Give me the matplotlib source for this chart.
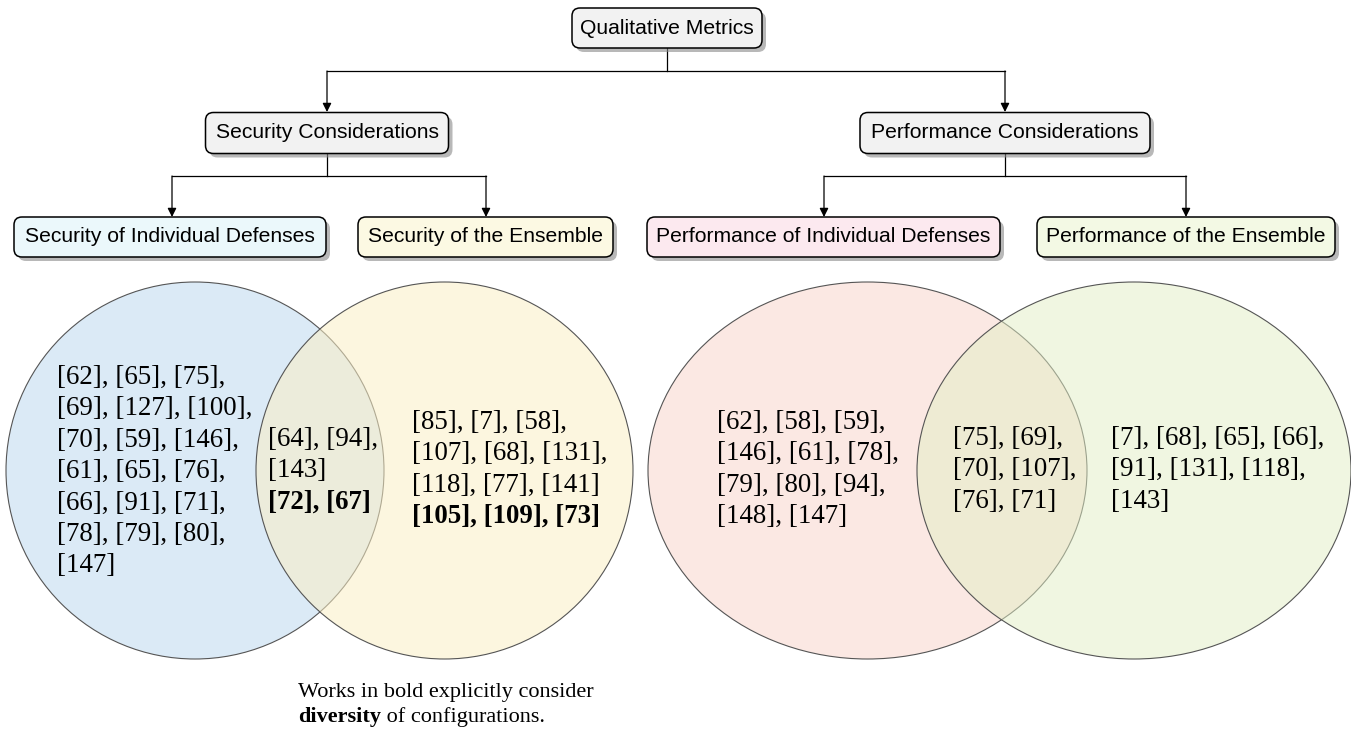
import matplotlib
matplotlib.use("Agg")
import matplotlib.pyplot as plt
from matplotlib.patches import Ellipse, FancyBboxPatch

# labels of the hierarchy
root_label = "Qualitative Metrics"
mid_labels = ["Security Considerations", "Performance Considerations"]
leaf_labels = ["Security of Individual Defenses", "Security of the Ensemble",
               "Performance of Individual Defenses", "Performance of the Ensemble"]

# references in each venn region, one entry per printed line
sec_indiv = ["[62], [65], [75],", "[69], [127], [100],", "[70], [59], [146],",
             "[61], [65], [76],", "[66], [91], [71],", "[78], [79], [80],", "[147]"]
sec_both = ["[64], [94],", "[143]"]
sec_both_bold = ["[72], [67]"]
sec_ens = ["[85], [7], [58],", "[107], [68], [131],", "[118], [77], [141]"]
sec_ens_bold = ["[105], [109], [73]"]
perf_indiv = ["[62], [58], [59],", "[146], [61], [78],", "[79], [80], [94],", "[148], [147]"]
perf_both = ["[75], [69],", "[70], [107],", "[76], [71]"]
perf_ens = ["[7], [68], [65], [66],", "[91], [131], [118],", "[143]"]

note_line1 = "Works in bold explicitly consider"
note_bold = "diversity"
note_rest = " of configurations."

W, H = 1351, 734
fig = plt.figure(figsize=(W / 100, H / 100), dpi=100)
ax = fig.add_axes([0, 0, 1, 1])
ax.set_xlim(0, W)
ax.set_ylim(H, 0)
ax.axis("off")

SANS = "Liberation Sans"
SERIF = "Liberation Serif"


def box(label, cx, cy, w, h, fc):
    x0, y0 = cx - w / 2, cy - h / 2
    shadow = FancyBboxPatch((x0 + 4, y0 + 4), w, h, boxstyle="round,pad=0,rounding_size=8",
                            fc="#8a8a8a", ec="none", alpha=0.6, zorder=2)
    ax.add_patch(shadow)
    b = FancyBboxPatch((x0, y0), w, h, boxstyle="round,pad=0,rounding_size=8",
                       fc=fc, ec="black", lw=1.1, zorder=3)
    ax.add_patch(b)
    ax.text(cx, cy, label, ha="center", va="center", fontsize=15.2, family=SANS, zorder=4)


def arrow(x, y_from, y_to):
    ax.annotate("", xy=(x, y_to), xytext=(x, y_from),
                arrowprops=dict(arrowstyle="-|>", color="black", lw=0.9,
                                mutation_scale=13, shrinkA=0, shrinkB=0))


# tree connectors
lk = dict(color="black", lw=0.9)
ax.plot([667, 667], [48, 71], **lk)
ax.plot([327, 1005], [71, 71], **lk)
arrow(327, 71, 112)
arrow(1005, 71, 112)
ax.plot([327, 327], [154, 176], **lk)
ax.plot([172, 486], [176, 176], **lk)
arrow(172, 176, 217)
arrow(486, 176, 217)
ax.plot([1005, 1005], [154, 176], **lk)
ax.plot([824, 1186], [176, 176], **lk)
arrow(824, 176, 217)
arrow(1186, 176, 217)

box(root_label, 667, 28, 190, 40, "#f2f2f2")
box(mid_labels[0], 327, 133, 243, 41, "#f2f2f2")
box(mid_labels[1], 1005, 133, 290, 41, "#f2f2f2")
leaf_cx = [170, 485.5, 823.5, 1186]
leaf_w = [312, 255, 353, 298]
leaf_fc = ["#ebf8fb", "#fcf9e3", "#fce9ef", "#f3f9e4"]
for lab, cx, w, fc in zip(leaf_labels, leaf_cx, leaf_w, leaf_fc):
    box(lab, cx, 237, w, 40, fc)

# venn ellipses
ec = "#555555"
ax.add_patch(Ellipse((195, 470.5), 378, 377, fc="#dbeaf6", ec=ec, lw=0.8, zorder=1))
ax.add_patch(Ellipse((444.5, 470.5), 377, 377, fc=(251 / 255, 239 / 255, 197 / 255, 0.55),
                     ec=ec, lw=0.8, zorder=1))
ax.add_patch(Ellipse((867.5, 470.5), 439, 377, fc="#fbe8e3", ec=ec, lw=0.8, zorder=1))
ax.add_patch(Ellipse((1134, 470.5), 434, 377, fc=(227 / 255, 239 / 255, 197 / 255, 0.5),
                     ec=ec, lw=0.8, zorder=1))


def lines(x, y, rows, bold=False, step=31.5):
    for i, r in enumerate(rows):
        ax.text(x, y + i * step, r, ha="left", va="center", fontsize=19.4, family=SERIF,
                fontweight="bold" if bold else "normal", zorder=5)


lines(57, 377, sec_indiv)
lines(268, 439, sec_both)
lines(268, 439 + 2 * 31.5, sec_both_bold, bold=True)
lines(412, 422, sec_ens)
lines(412, 422 + 3 * 31.5, sec_ens_bold, bold=True)
lines(717, 422, perf_indiv)
lines(953, 438, perf_both)
lines(1111, 438, perf_ens)

# note under the diagram
ax.text(298, 692, note_line1, ha="left", va="center", fontsize=16, family=SERIF)
tb = ax.text(298, 717, note_bold, ha="left", va="center", fontsize=16, family=SERIF,
             fontweight="bold")
fig.canvas.draw()
ext = tb.get_window_extent(fig.canvas.get_renderer())
ax.text(298 + ext.width, 717, note_rest, ha="left", va="center", fontsize=16, family=SERIF)

fig.savefig("out.png", dpi=100)
